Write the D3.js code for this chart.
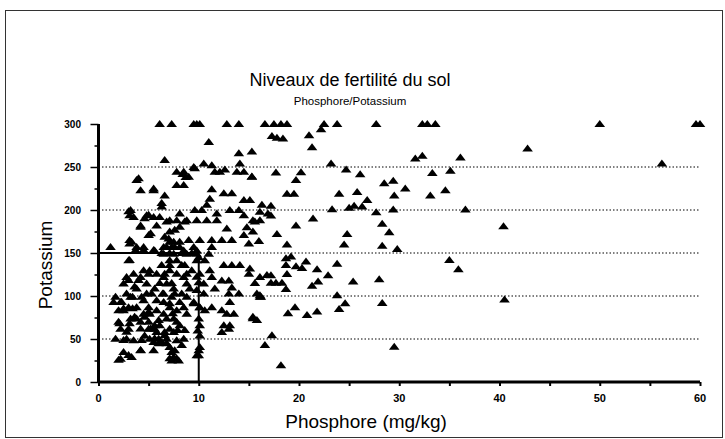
<!DOCTYPE html>
<html>
<head>
<meta charset="utf-8">
<script src="https://cdn.jsdelivr.net/npm/d3@7"></script>
<style>
  body { margin: 0; background: #fff; }
  text { font-family: "Liberation Sans", Arial, sans-serif; fill: #000; }
</style>
</head>
<body>
<div id="chart"></div>
<script>
// [phosphore mg/kg, potassium] pairs
const dense = [
  [6.1,300],[7.3,300],[9.5,300],[10.1,300],[9.8,300],[12.8,300],[14,300],[16.6,300],
  [11,279],[14,266],[15.3,268],[6.6,258],[10.5,254],[11.3,252],[14.1,254],[9.5,250],[12.6,247],
  [7.8,244.5],[8.5,244.5],[11.6,244.5],[12.1,244.5],[13.8,244.5],[14.5,244.5],[9,238.6],[15.3,238.6],
  [3.8,234.8],[7.8,229],[8.5,229],[4.2,223],[5.5,223],[11.3,224],[6.6,217],[12.5,219.5],[13.3,219.5],
  [11.1,213],[14.5,211.5],[15.1,211.5],[6.3,204],[10.8,206],[3.2,200],[9.6,200],[10.3,200],[13.1,200],
  [14,200],[16.1,198],[4.8,194],[8.1,196],[11.8,196],[3.5,192],[5.5,192],[6.1,192],[14.5,194],
  [7.1,188],[7.8,188],[8.8,188],[9.8,188],[10.8,188],[11.8,188],[15.4,188],[16.1,188],[4.2,182],
  [5.8,182],[14.8,180],[12.8,178.5],[7.1,175],[5,171],[14.5,171],[7,167],[9,165],[10.1,165],
  [11.3,165],[12.3,165],[13.3,165],[3.3,163],[7.5,163],[8.1,163],[15,161],[1.2,157],[3.8,157],
  [4.5,157],[6.5,157],[7.3,157],[8.1,157],[11.3,157],[5.6,153],[8.5,153],[9.8,153],[6.5,149],
  [7.5,149],[8.8,149],[9.8,149],[11,149],[3,141.6],[7.1,141.6],[7.8,141.6],[9.8,141.6],[10.6,141.6],
  [6.3,136],[8.6,136],[12.5,136],[13.3,136],[14.1,136],[5.1,130],[7.1,130],[9.3,130],[4.5,130],
  [11.1,130],[3.5,126],[5.8,126],[7.8,126],[10.1,126],[15,126],[2.8,122],[4.2,122],[6.5,122],
  [8.5,122],[11.3,122],[16.1,122],[13,118],[12.3,118],[2.5,114.5],[4.8,114.5],[6.8,114.5],
  [8.8,114.5],[10.5,114.5],[3.8,108.6],[5.6,108.6],[7.5,108.6],[9.1,108.6],[11.6,108.6],[13.3,110],
  [2.8,103],[4.8,103],[6.5,103],[8.3,103],[10.5,103],[13,103],[14,103],[15.8,103],[1.7,99],
  [3.2,99],[7.3,99],[8.8,99],[16.1,99],[4.5,95],[5.8,95],[1.5,93],[2.2,93],[6.5,93],[8.1,93],
  [9.5,93],[13.1,93],[3,87],[3.8,87],[5,87],[7.1,87],[8.5,87],[10.1,87],[11.3,87],[2,83.4],
  [2.5,83.4],[5.8,83.4],[7.8,83.4],[12.3,83.4],[10.6,83.4],[4.5,79.5],[5.1,79.5],[6.5,79.5],
  [8.8,79.5],[12.8,79.5],[13.5,79.5],[3.2,73.7],[3.8,73.7],[6.8,73.7],[7.5,73.7],[10,73.7],
  [15.4,74],[2,70],[4.2,70],[5,70],[7.8,70],[6.1,66],[8.1,66],[12.5,66],[13.1,66],[10.1,66],
  [2.2,62],[3,62],[5,62],[5.6,62],[7.1,62],[13,62],[5.8,58],[6.6,58],[7.5,58],[12.3,58],
  [4.6,54],[10.1,54],[1.7,50.4],[2.8,50.4],[5.1,50.4],[6,50.4],[6.8,50.4],[8.5,50.4],[3.5,48.5],
  [7.8,48.5],[5.5,46.5],[6.3,46.5],[7.1,40.7],[10.1,40.7],[4.2,36.9],[5.5,36.9],[7.6,36.9],
  [2.5,35],[9.8,31],[7.5,29],[2.2,27],[3.3,29],[7.3,25],[8,25]
];

const denseExtra = [
  [5.0,126],[6.6,126],[8.8,126],[4.0,118.6],[3.0,118.6],[6.1,115],[7.3,115],[5.3,103],[6.4,103],
  [7.6,103],[9.5,91.5],[7.1,91.5],[3.4,85.7],[2.5,85.7],[5,81.8],[7.4,80],[3.6,76],[4.6,76],[6,72],
  [2.1,68.2],[3.1,68.2],[5.6,66],[4.2,62.3],[5.2,62.3],[7.9,60.5],[8.6,60.5],[2.8,58.5],[6.6,54.6],
  [5.6,50.8],[2.5,48.8],[4.3,48.8],[6,45],[6.8,45],[8.3,43],[4.2,37.2],[7.3,35],[3.0,31.3],
  [7.1,27.6],[7.8,27.6],[2,26],[9.8,122.5],[9.8,107],[2.3,93.4],[3.4,99.2],[4.3,99.2],[3.6,111],
  [7.1,136],[8.3,136],[6.3,150],[7.1,150],[8.3,150],[9.3,150],[3.1,142],
  [10,145],[10,116],[10.1,87],[9.9,60],[10,37],[10,31],
  [4,237],[5.5,225],[6.3,208],[3.0,198.5],[3.1,194],[5,194.5],[4.6,190.5],[6.8,186.5],[8.6,186.5],
  [4.2,180.5],[8.1,180.5],[5.2,173],[7.6,177],[6.6,169],[3.1,165],[3.1,161],[7.1,163],[9.5,157],
  [3.7,153.5],[4.5,153.5],[5.5,153.5],[6.8,157],[7.6,157],[8.4,242],[8.7,238.5],[9.6,248.5],
  [15.3,239],[16.3,206],[16.9,196],[16,164],[15.6,115],[16.1,101],[16.2,99],[15.4,76],[15.8,72],
  [16.6,43],[16.8,124.5],[15.1,132],[15.4,175],[15.6,186.5]
];

const spread = [
  [17.5,300],[18.2,300],[18.8,300],[22.5,300],[22.2,294],[23.8,300],[27.7,300],[32.3,300],[32.8,300],
  [33.6,300],[50,300],[59.6,300],[60,300],[21,287],[17.3,286],[17.8,284],[18.4,283],[21.3,273],
  [42.8,271.5],[31.6,260],[32.3,263],[36.1,261],[56.2,254],[23.2,254],[24.7,247],[26.1,241.5],
  [17.7,243.5],[20.2,244],[19.7,235],[33.3,243],[35.1,245.5],[28.5,231],[29.4,234],[30.6,225],
  [34.6,223],[33.1,217],[29.5,217],[25.8,221],[24,219],[18.8,219],[19.5,219],[26.8,211.5],[17.2,205],
  [23.3,201],[25,202.5],[25.5,205],[26.3,204],[27.7,197.5],[29.4,200.5],[36.6,200.5],[17.2,193.5],
  [21.4,190],[19.7,182],[28.3,184],[29,174],[40.4,181],[17.8,172],[24.8,172],[18.8,160],[24.5,160],
  [28.3,158.5],[29.8,154.6],[19.2,146],[18.7,144],[20.7,140],[23.8,137.5],[18.7,136],[19.7,134.5],
  [20.3,132.5],[21.8,131],[22.9,124],[18.8,125.5],[35,142],[35.9,131],[17.2,115.5],[17.7,115.5],
  [18.3,115.5],[21.9,117],[21.3,112],[25.4,117],[28,119.5],[18.7,108],[17.2,124],[23.8,101],
  [40.5,96],[24.6,91.5],[24,85],[28.3,92],[19.6,87],[18.9,80],[20.8,78],[21.8,82],[17.3,54.5],
  [29.5,41],[18.2,19.5]
];

const xTicks = [0, 10, 20, 30, 40, 50, 60];
const yTicks = [0, 50, 100, 150, 200, 250, 300];
const gridValues = [50, 100, 150, 200, 250];

const points = dense.concat(denseExtra, spread);

const width = 725, height = 439;
const svg = d3.select("#chart").append("svg")
  .attr("width", width).attr("height", height);

// outer frame
svg.append("rect")
  .attr("x", 5.5).attr("y", 10.5)
  .attr("width", 717).attr("height", 427)
  .attr("fill", "none").attr("stroke", "#333").attr("stroke-width", 1);

const x = d3.scaleLinear().domain([0, 60]).range([98.5, 700]);
const y = d3.scaleLinear().domain([0, 300]).range([382, 124]);

// dotted gridlines
svg.selectAll("line.grid").data(gridValues).enter().append("line")
  .attr("class", "grid")
  .attr("x1", x(0)).attr("x2", x(60))
  .attr("y1", d => y(d)).attr("y2", d => y(d))
  .attr("stroke", "#000").attr("stroke-width", 1)
  .attr("stroke-dasharray", "1.5,2");

// reference lines at P=10 and K=150
svg.append("line")
  .attr("x1", x(10)).attr("x2", x(10)).attr("y1", y(0)).attr("y2", y(150))
  .attr("stroke", "#000").attr("stroke-width", 2);
svg.append("line")
  .attr("x1", x(0)).attr("x2", x(10)).attr("y1", y(150)).attr("y2", y(150))
  .attr("stroke", "#000").attr("stroke-width", 2);

// triangles
const tri = "M0,-4L5.3,3L-5.3,3Z";
svg.append("g").selectAll("path").data(points).enter().append("path")
  .attr("d", tri)
  .attr("transform", d => "translate(" + x(d[0]) + "," + y(d[1]) + ")")
  .attr("fill", "#000");

// axes
const xAxis = d3.axisBottom(x).tickValues(d3.range(0, 61, 5)).tickSize(4).tickFormat("");
const gx = svg.append("g").attr("transform", "translate(0," + y(0) + ")").call(xAxis);
const yAxis = d3.axisLeft(y).tickValues(d3.range(0, 301, 25)).tickSize(0).tickFormat("");
const gy = svg.append("g").attr("transform", "translate(" + x(0) + ",0)").call(yAxis);
gy.selectAll(".tick line")
  .attr("x2", d => d % 50 === 0 ? -8 : -4)
  .attr("stroke-width", 1.5);
gx.selectAll(".tick line").attr("stroke-width", 2);
[gx, gy].forEach(g => g.select(".domain").attr("stroke-width", 3).attr("stroke", "#000"));
gx.select(".domain").attr("d", "M" + x(0) + ",0H" + x(60));
gy.select(".domain").attr("d", "M0," + y(0) + "V" + y(300));

svg.selectAll("text.xt").data(xTicks).enter().append("text")
  .attr("x", d => x(d)).attr("y", 402)
  .attr("text-anchor", "middle")
  .attr("font-size", 11).attr("font-weight", "bold")
  .text(d => d);

svg.selectAll("text.yt").data(yTicks).enter().append("text")
  .attr("x", 81).attr("y", d => y(d) + 3.5)
  .attr("text-anchor", "end")
  .attr("font-size", 10).attr("font-weight", "bold")
  .text(d => d);

// titles
svg.append("text").attr("x", 350).attr("y", 86)
  .attr("text-anchor", "middle").attr("font-size", 18)
  .text("Niveaux de fertilité du sol");
svg.append("text").attr("x", 350).attr("y", 105)
  .attr("text-anchor", "middle").attr("font-size", 11.5)
  .text("Phosphore/Potassium");
svg.append("text").attr("x", 366).attr("y", 428)
  .attr("text-anchor", "middle").attr("font-size", 19)
  .text("Phosphore (mg/kg)");
svg.append("text")
  .attr("transform", "translate(52,265) rotate(-90)")
  .attr("text-anchor", "middle").attr("font-size", 19)
  .text("Potassium");
</script>
</body>
</html>
